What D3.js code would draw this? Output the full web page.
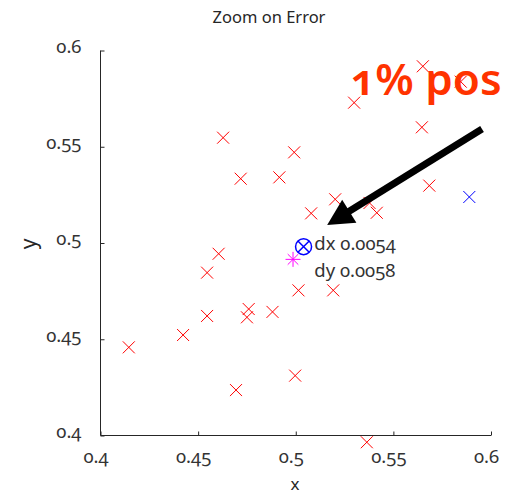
<!DOCTYPE html>
<html>
<head>
<meta charset="utf-8">
<script src="https://cdn.jsdelivr.net/npm/d3@7"></script>
<style>
html,body{margin:0;padding:0;background:#fff;}
svg text{font-family:"Noto Sans","Open Sans",Lato,sans-serif;font-variant-numeric:oldstyle-nums;font-feature-settings:"onum" 1;}
</style>
</head>
<body>
<svg id="chart" width="506" height="496"></svg>
<script>
// ---- data ----
const redX = [0.4145,0.4423,0.4546,0.4546,0.4605,0.4694,0.4759,0.4750,0.4881,0.5014,0.5192,0.4997,0.5364,
              0.4628,0.4718,0.4916,0.4992,0.5299,0.5651,0.5845,0.5646,0.5684,0.5202,0.5079,0.5378,0.5415];
const redY = [0.4458,0.4522,0.4621,0.4846,0.4944,0.4236,0.4657,0.4614,0.4642,0.4754,0.4754,0.4311,0.3965,
              0.5547,0.5334,0.5341,0.5471,0.5729,0.5918,0.5838,0.5601,0.5298,0.5227,0.5154,0.5208,0.5157];
const bluePoint = [0.5889, 0.5239];
const estimate = [0.5040, 0.4981];
const truth = [0.4986, 0.4915];
const xTicks = [0.4,0.45,0.5,0.55,0.6];
const yTicks = [0.4,0.45,0.5,0.55,0.6];
const xTickLabels = ["0.4","0.45","0.5","0.55","0.6"];
const yTickLabels = ["0.4","0.45","0.5","0.55","0.6"];
const title = "Zoom on Error";
const xLabel = "x", yLabel = "y";
const arrowFrom = [0.5954, 0.5592];
const arrowTo = [0.5161, 0.5094];
const bigLabel = {text:"1% pos", x:0.5279, y:0.5769};
const dxLabel = {text:"dx 0.0054", x:0.5095, y:0.4964};
const dyLabel = {text:"dy 0.0058", x:0.5095, y:0.4823};

// ---- chart ----
const svg = d3.select("#chart");
const axisColor = "#262626";
const x = d3.scaleLinear().domain([0.4,0.6]).range([100.5,491]);
const y = d3.scaleLinear().domain([0.4,0.6]).range([435.5,50.5]);

// axes
const xAxis = svg.append("g").attr("transform","translate(0,435.5)")
  .call(d3.axisBottom(x).tickValues(xTicks).tickSize(-4).tickPadding(0).tickFormat((d,i)=>xTickLabels[i]));
xAxis.select(".domain").attr("d",`M${x(0.4)},0H${x(0.6)}`).attr("stroke",axisColor);
xAxis.selectAll(".tick line").attr("stroke",axisColor);
xAxis.selectAll(".tick text").attr("y",27).attr("dy",null).attr("dx",-5).attr("font-size",18.5).attr("fill","#333");

const yAxis = svg.append("g").attr("transform","translate(100.5,0)")
  .call(d3.axisLeft(y).tickValues(yTicks).tickSize(-4).tickPadding(0).tickFormat((d,i)=>yTickLabels[i]));
yAxis.select(".domain").attr("d",`M0,${y(0.4)}V${y(0.6)}`).attr("stroke",axisColor);
yAxis.selectAll(".tick line").attr("stroke",axisColor);
yAxis.selectAll(".tick text").attr("x",-19).attr("dy","0.1em").attr("font-size",18.5).attr("fill","#333");

// labels
svg.append("text").attr("x",269).attr("y",23).attr("text-anchor","middle")
  .attr("font-size",16.5).attr("fill","#262626").text(title);
svg.append("text").attr("x",295).attr("y",490).attr("text-anchor","middle")
  .attr("font-size",17).attr("fill","#262626").text(xLabel);
svg.append("text").attr("transform","translate(36,244) rotate(-90)").attr("text-anchor","middle")
  .attr("font-size",21).attr("fill","#262626").text(yLabel);

// markers
function xMark(g, cx, cy, r, color, w){
  g.append("path").attr("d",`M${cx-r},${cy-r}L${cx+r},${cy+r}M${cx-r},${cy+r}L${cx+r},${cy-r}`)
   .attr("stroke",color).attr("stroke-width",w).attr("fill","none");
}
const pts = svg.append("g");
redX.forEach((v,i)=> xMark(pts, x(v), y(redY[i]), 6, "#ff0000", 1));
xMark(pts, x(bluePoint[0]), y(bluePoint[1]), 6, "#0000ff", 1);

// truth star (magenta asterisk)
{
  const cx = x(truth[0]), cy = y(truth[1]), r = 7.5, d = 5.3;
  pts.append("path").attr("d",`M${cx-r},${cy}H${cx+r}M${cx},${cy-r}V${cy+r}M${cx-d},${cy-d}L${cx+d},${cy+d}M${cx-d},${cy+d}L${cx+d},${cy-d}`)
    .attr("stroke","#ff00ff").attr("stroke-width",1).attr("fill","none");
}
// estimate circle-x
{
  const cx = x(estimate[0]), cy = y(estimate[1]), r = 8, d = r*0.707;
  pts.append("circle").attr("cx",cx).attr("cy",cy).attr("r",r).attr("fill","none").attr("stroke","#0000ff").attr("stroke-width",1.5);
  pts.append("path").attr("d",`M${cx-d},${cy-d}L${cx+d},${cy+d}M${cx-d},${cy+d}L${cx+d},${cy-d}`)
    .attr("stroke","#0000ff").attr("stroke-width",1.5);
}

// arrow
{
  const x0 = x(arrowFrom[0]), y0 = y(arrowFrom[1]), x1 = x(arrowTo[0]), y1 = y(arrowTo[1]);
  const ang = Math.atan2(y1-y0, x1-x0);
  const hl = 26, hw = 13.5;
  const bx = x1 - hl*Math.cos(ang), by = y1 - hl*Math.sin(ang);
  const nx = -Math.sin(ang), ny = Math.cos(ang);
  svg.append("line").attr("x1",x0).attr("y1",y0).attr("x2",bx+2*Math.cos(ang)).attr("y2",by+2*Math.sin(ang))
    .attr("stroke","#000").attr("stroke-width",7);
  svg.append("path").attr("d",`M${x1},${y1}L${bx+nx*hw},${by+ny*hw}L${bx-nx*hw},${by-ny*hw}Z`).attr("fill","#000");
}

// annotations
svg.append("text").attr("x",x(bigLabel.x)).attr("y",y(bigLabel.y)).attr("font-size",44).attr("font-weight",600)
  .attr("fill","#ff3300").text(bigLabel.text);
[dxLabel,dyLabel].forEach(l=> svg.append("text").attr("x",x(l.x)).attr("y",y(l.y)).attr("font-size",18.5)
  .attr("fill","#333").text(l.text));
</script>
</body>
</html>
